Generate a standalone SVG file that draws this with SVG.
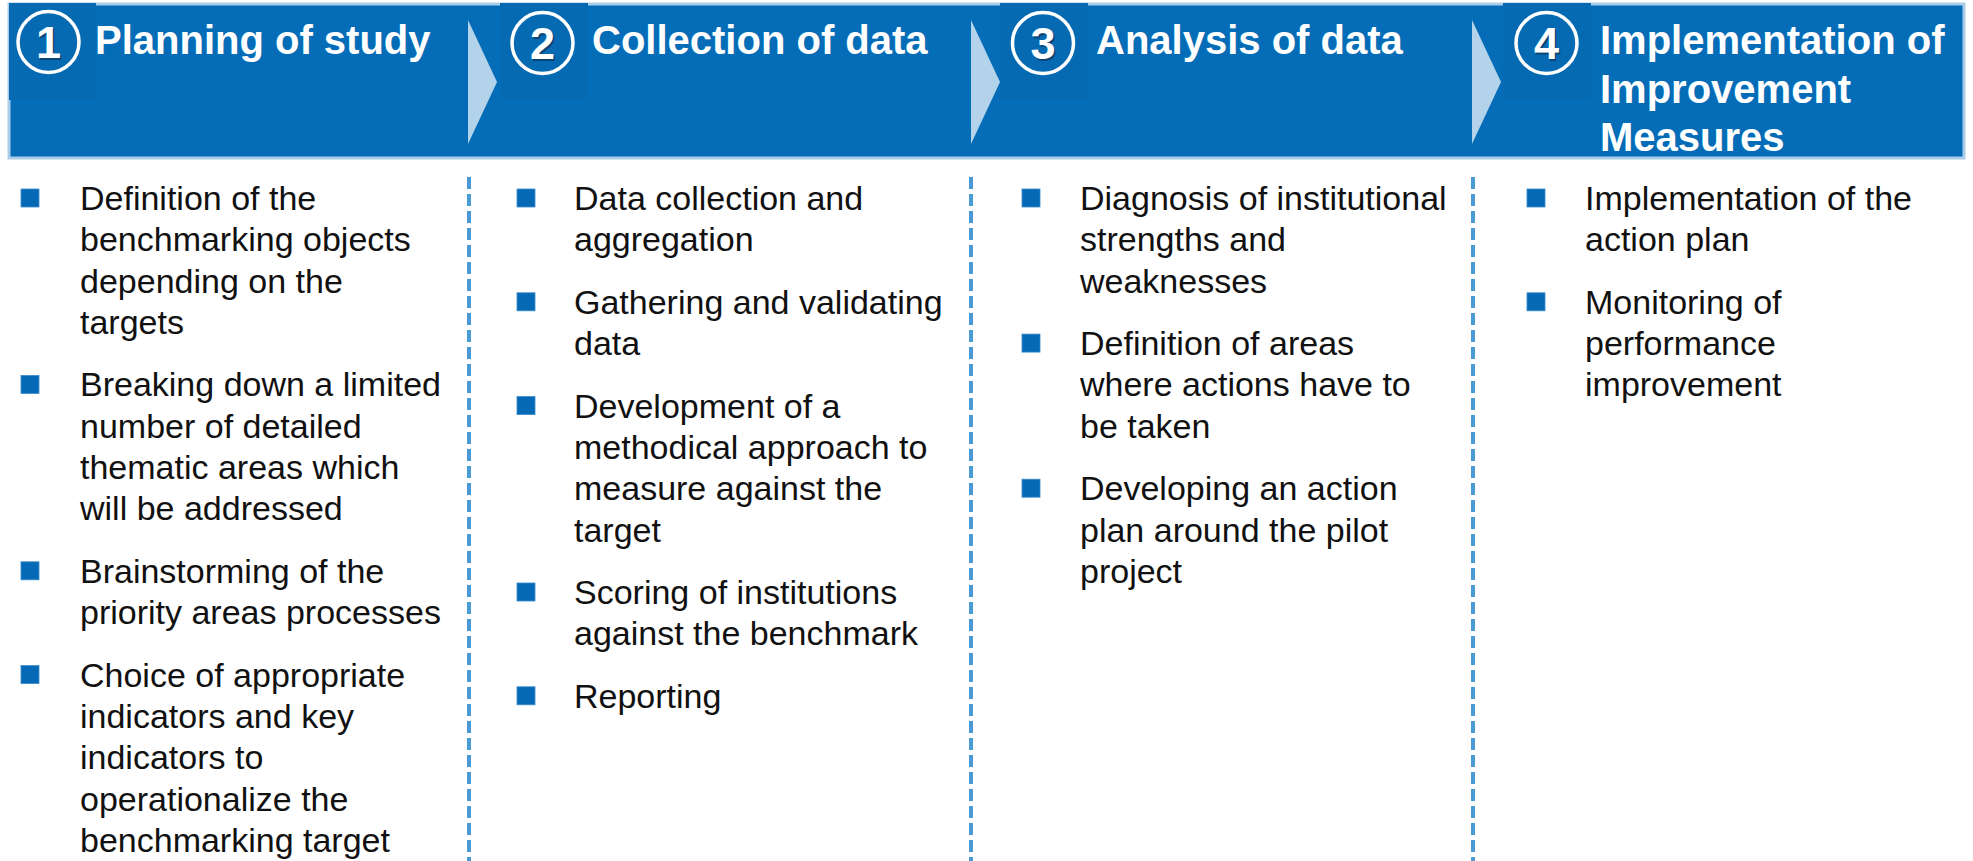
<svg xmlns="http://www.w3.org/2000/svg" width="1973" height="861" viewBox="0 0 1973 861">
<style>
.title{font-family:"Liberation Sans",Arial,sans-serif;font-weight:bold;font-size:40px;fill:#ffffff}
.num{font-family:"Liberation Sans",Arial,sans-serif;font-weight:bold;font-size:45px;fill:#ffffff;text-anchor:middle}
.numsh{font-family:"Liberation Sans",Arial,sans-serif;font-weight:bold;font-size:45px;fill:#0a4577;text-anchor:middle}
.ring{fill:none;stroke:#ffffff;stroke-width:3.5}
.badge{fill:#066ab3}
.chev{fill:#b3d3ea}
.body{font-family:"Liberation Sans",Arial,sans-serif;font-size:34px;fill:#111111}
.bul{fill:#0669b6;stroke:#3b8ccc;stroke-width:0.8}
.div{stroke:#4a9bd3;stroke-width:4;stroke-dasharray:12 5;fill:none}
</style>
<rect width="1973" height="861" fill="#ffffff"/>
<g id="header">
<rect x="9" y="4" width="1955" height="154" fill="#056db7" stroke="#a9cde8" stroke-width="3"/>
</g>
<g id="step1">
<rect class="badge" x="9" y="3" width="87" height="97"/>
<circle class="ring" cx="48.5" cy="42" r="30.5"/>
<text class="numsh" x="50" y="59.5">1</text>
<text class="num" x="48.5" y="58">1</text>
<text class="title" x="95" y="54">Planning of study</text>
</g>
<g id="step2">
<rect class="badge" x="500" y="3" width="88" height="97"/>
<circle class="ring" cx="542.5" cy="43" r="30.5"/>
<text class="numsh" x="544" y="60.5">2</text>
<text class="num" x="542.5" y="59">2</text>
<text class="title" x="592" y="54">Collection of data</text>
</g>
<g id="step3">
<rect class="badge" x="1000" y="3" width="88" height="97"/>
<circle class="ring" cx="1043" cy="43" r="30.5"/>
<text class="numsh" x="1044.5" y="60.5">3</text>
<text class="num" x="1043" y="59">3</text>
<text class="title" x="1096" y="54">Analysis of data</text>
</g>
<g id="step4">
<rect class="badge" x="1503" y="3" width="88" height="97"/>
<circle class="ring" cx="1546.5" cy="43" r="30.5"/>
<text class="numsh" x="1548" y="60.5">4</text>
<text class="num" x="1546.5" y="59">4</text>
<text class="title" x="1600" y="54">Implementation of<tspan x="1600" dy="48.5">Improvement</tspan><tspan x="1600" dy="48.5">Measures</tspan></text>
</g>
<g id="connectors">
<polygon class="chev" points="468,20 497,82 468,144"/>
<polygon class="chev" points="971,20 1000,82 971,144"/>
<polygon class="chev" points="1472,20 1501,82 1472,144"/>
<line class="div" x1="469" y1="177" x2="469" y2="861"/>
<line class="div" x1="971" y1="177" x2="971" y2="861"/>
<line class="div" x1="1473" y1="177" x2="1473" y2="861"/>
</g>
<g id="col1">
<rect class="bul" x="21" y="189" width="18" height="18"/>
<text class="body" x="80" y="210">Definition of the<tspan x="80" dy="41.3">benchmarking objects</tspan><tspan x="80" dy="41.3">depending on the</tspan><tspan x="80" dy="41.3">targets</tspan></text>
<rect class="bul" x="21" y="375.4" width="18" height="18"/>
<text class="body" x="80" y="396.4">Breaking down a limited<tspan x="80" dy="41.3">number of detailed</tspan><tspan x="80" dy="41.3">thematic areas which</tspan><tspan x="80" dy="41.3">will be addressed</tspan></text>
<rect class="bul" x="21" y="561.8" width="18" height="18"/>
<text class="body" x="80" y="582.8">Brainstorming of the<tspan x="80" dy="41.3">priority areas processes</tspan></text>
<rect class="bul" x="21" y="665.6" width="18" height="18"/>
<text class="body" x="80" y="686.6">Choice of appropriate<tspan x="80" dy="41.3">indicators and key</tspan><tspan x="80" dy="41.3">indicators to</tspan><tspan x="80" dy="41.3">operationalize the</tspan><tspan x="80" dy="41.3">benchmarking target</tspan></text>
</g>
<g id="col2">
<rect class="bul" x="517" y="189" width="18" height="18"/>
<text class="body" x="574" y="210">Data collection and<tspan x="574" dy="41.3">aggregation</tspan></text>
<rect class="bul" x="517" y="292.8" width="18" height="18"/>
<text class="body" x="574" y="313.8">Gathering and validating<tspan x="574" dy="41.3">data</tspan></text>
<rect class="bul" x="517" y="396.6" width="18" height="18"/>
<text class="body" x="574" y="417.6">Development of a<tspan x="574" dy="41.3">methodical approach to</tspan><tspan x="574" dy="41.3">measure against the</tspan><tspan x="574" dy="41.3">target</tspan></text>
<rect class="bul" x="517" y="583" width="18" height="18"/>
<text class="body" x="574" y="604">Scoring of institutions<tspan x="574" dy="41.3">against the benchmark</tspan></text>
<rect class="bul" x="517" y="686.8" width="18" height="18"/>
<text class="body" x="574" y="707.8">Reporting</text>
</g>
<g id="col3">
<rect class="bul" x="1022" y="189" width="18" height="18"/>
<text class="body" x="1080" y="210">Diagnosis of institutional<tspan x="1080" dy="41.3">strengths and</tspan><tspan x="1080" dy="41.3">weaknesses</tspan></text>
<rect class="bul" x="1022" y="334.1" width="18" height="18"/>
<text class="body" x="1080" y="355.1">Definition of areas<tspan x="1080" dy="41.3">where actions have to</tspan><tspan x="1080" dy="41.3">be taken</tspan></text>
<rect class="bul" x="1022" y="479.2" width="18" height="18"/>
<text class="body" x="1080" y="500.2">Developing an action<tspan x="1080" dy="41.3">plan around the pilot</tspan><tspan x="1080" dy="41.3">project</tspan></text>
</g>
<g id="col4">
<rect class="bul" x="1527" y="189" width="18" height="18"/>
<text class="body" x="1585" y="210">Implementation of the<tspan x="1585" dy="41.3">action plan</tspan></text>
<rect class="bul" x="1527" y="292.8" width="18" height="18"/>
<text class="body" x="1585" y="313.8">Monitoring of<tspan x="1585" dy="41.3">performance</tspan><tspan x="1585" dy="41.3">improvement</tspan></text>
</g>
</svg>
